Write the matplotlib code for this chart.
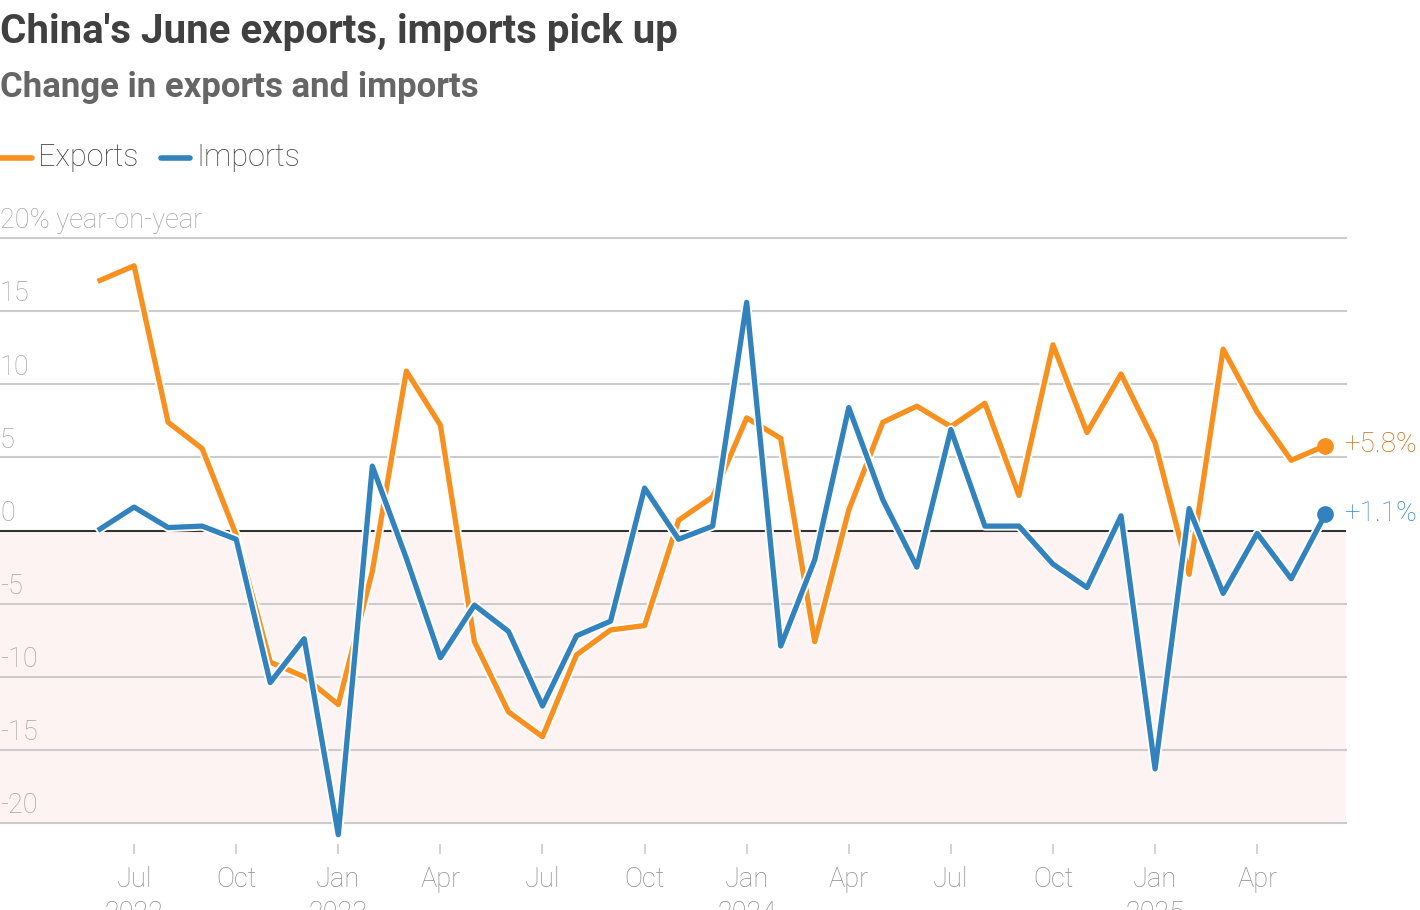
import matplotlib
matplotlib.use("Agg")
import matplotlib.pyplot as plt
import matplotlib.patheffects as pe

plt.rcParams['font.family'] = ['Roboto', 'DejaVu Sans']

# months from Jun 2022 to Jun 2025
months = ["2022-06", "2022-07", "2022-08", "2022-09", "2022-10", "2022-11", "2022-12",
          "2023-01", "2023-02", "2023-03", "2023-04", "2023-05", "2023-06", "2023-07",
          "2023-08", "2023-09", "2023-10", "2023-11", "2023-12",
          "2024-01", "2024-02", "2024-03", "2024-04", "2024-05", "2024-06", "2024-07",
          "2024-08", "2024-09", "2024-10", "2024-11", "2024-12",
          "2025-01", "2025-02", "2025-03", "2025-04", "2025-05", "2025-06"]

exports = [17.1, 18.1, 7.4, 5.6, -0.3, -9.0, -10.0,
           -11.9, -2.8, 10.9, 7.2, -7.6, -12.4, -14.1, -8.5, -6.8, -6.5, 0.7, 2.3,
           7.7, 6.3, -7.6, 1.4, 7.4, 8.5, 7.1, 8.7, 2.4, 12.7, 6.7, 10.7,
           6.0, -3.0, 12.4, 8.1, 4.8, 5.8]

imports = [0.1, 1.6, 0.2, 0.3, -0.6, -10.4, -7.4,
           -20.8, 4.4, -1.9, -8.7, -5.1, -6.9, -12.0, -7.2, -6.2, 2.9, -0.6, 0.3,
           15.6, -7.9, -2.0, 8.4, 2.1, -2.5, 6.9, 0.3, 0.3, -2.3, -3.9, 1.0,
           -16.3, 1.5, -4.3, -0.2, -3.3, 1.1]

tick_months = ["2022-07", "2022-10", "2023-01", "2023-04", "2023-07", "2023-10",
               "2024-01", "2024-04", "2024-07", "2024-10", "2025-01", "2025-04"]
tick_labels = ["Jul\n2022", "Oct", "Jan\n2023", "Apr", "Jul", "Oct",
               "Jan\n2024", "Apr", "Jul", "Oct", "Jan\n2025", "Apr"]

y_ticks = [20, 15, 10, 5, 0, -5, -10, -15, -20]
y_labels = ["20% year-on-year", "15", "10", "5", "0", "-5", "-10", "-15", "-20"]

ORANGE = "#f7901e"
BLUE = "#3182bd"
GRID = "#cccccc"
LABEL = "#a6a6a6"

x = list(range(len(months)))

fig = plt.figure(figsize=(14.2, 9.1), dpi=100)
ax = fig.add_axes([0, 1 - 823 / 910, 1346 / 1420, (823 - 238) / 910])
xmin, xmax = -2.94, 36.61
ax.set_xlim(xmin, xmax)
ax.set_ylim(-20, 20)

# negative region shading
ax.axhspan(-20, 0, color="#fdf3f2", lw=0, zorder=0)

for v, lab in zip(y_ticks, y_labels):
    if v == 0:
        ax.axhline(0, color="#333333", lw=1.5, zorder=2)
    else:
        ax.axhline(v, color=GRID, lw=1.5, zorder=1, clip_on=False)
    ax.text(xmin, v + 0.25, lab, ha="left", va="bottom", fontsize=19.5,
            color=LABEL, fontweight="light")

stroke = [pe.Stroke(linewidth=6.5, foreground="white"), pe.Normal()]
ax.plot(x, exports, color=ORANGE, lw=3.8, zorder=3, clip_on=False,
        solid_joinstyle="round", path_effects=stroke)
ax.plot(x, imports, color=BLUE, lw=3.8, zorder=4, clip_on=False,
        solid_joinstyle="round", path_effects=stroke)

ax.plot(x[-1], exports[-1], "o", ms=11, color=ORANGE, zorder=5, clip_on=False)
ax.plot(x[-1], imports[-1], "o", ms=11, color=BLUE, zorder=5, clip_on=False)
ax.text(x[-1] + 0.55, exports[-1] + 0.05, f"+{exports[-1]:.1f}%", color="#c56f1a",
        fontsize=20, va="center", ha="left", fontweight="light")
ax.text(x[-1] + 0.55, imports[-1] + 0.05, f"+{imports[-1]:.1f}%", color="#3a86c4",
        fontsize=20, va="center", ha="left", fontweight="light")

ax.spines["bottom"].set_position(("outward", 15))
for s in ax.spines.values():
    s.set_visible(False)
ax.set_yticks([])
ax.set_xticks([months.index(m) for m in tick_months])
ax.set_xticklabels(tick_labels, fontsize=19.5, color="#8c8c8c", fontweight="light",
                   linespacing=1.35, va="top")
ax.tick_params(axis="x", length=7.5, width=1.2, color=GRID, pad=8.5)
ax.patch.set_alpha(0)

# titles and legend
fig.text(0, 1 - 32 / 910, "China's June exports, imports pick up", fontsize=29,
         fontweight="bold", color="#404040", ha="left", va="center")
fig.text(0, 1 - 87 / 910, "Change in exports and imports", fontsize=25,
         fontweight="bold", color="#666666", ha="left", va="center")

ly = 1 - 158 / 910
fig.add_artist(plt.Line2D([0, 32 / 1420], [ly, ly], color=ORANGE, lw=4,
                          solid_capstyle="round"))
fig.text(38 / 1420, ly, "Exports", fontsize=22, color="#444444", va="center",
         fontweight="light")
fig.add_artist(plt.Line2D([161 / 1420, 190 / 1420], [ly, ly], color=BLUE, lw=4,
                          solid_capstyle="round"))
fig.text(196 / 1420, ly, "Imports", fontsize=22, color="#444444", va="center",
         fontweight="light")

fig.savefig("out.png", dpi=100)
